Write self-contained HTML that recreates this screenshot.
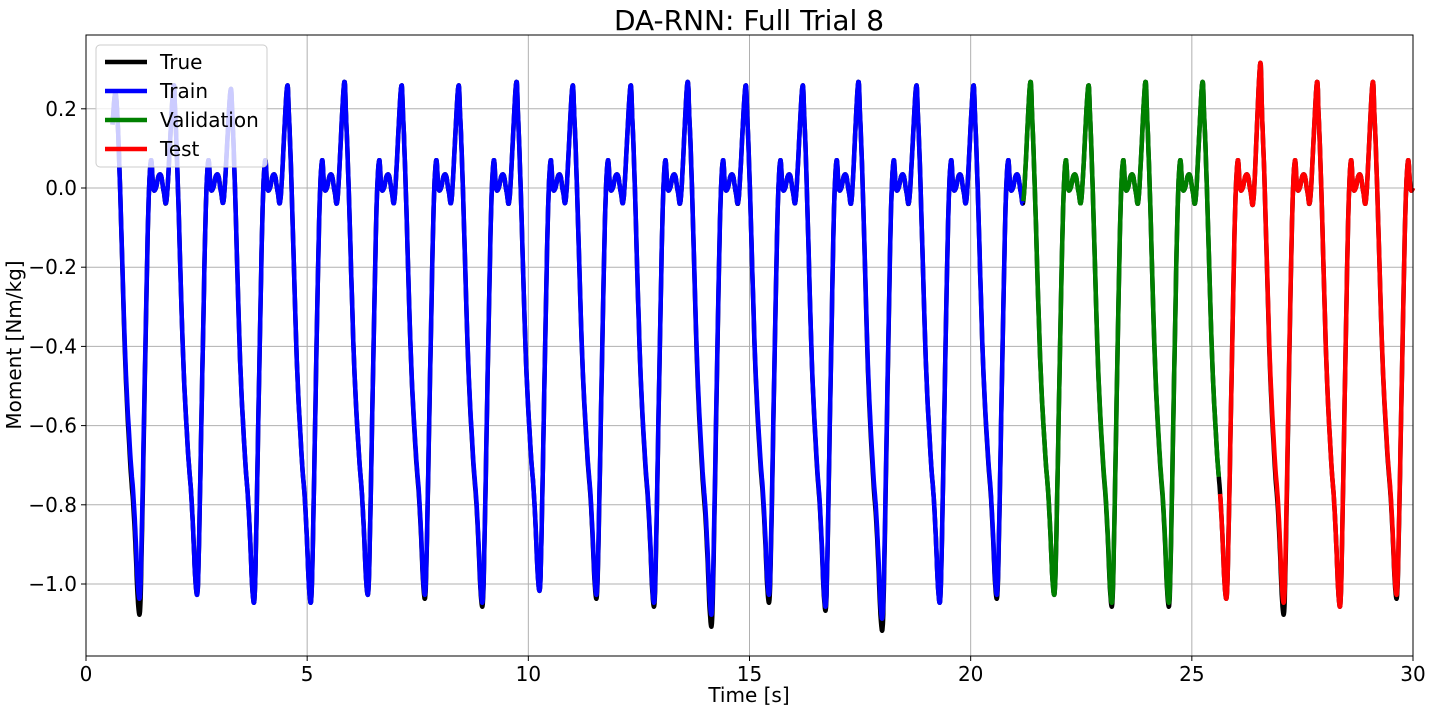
<!DOCTYPE html>
<html><head><meta charset="utf-8"><style>
body{margin:0;background:#fff;}
svg{display:block;font-family:"DejaVu Sans","Liberation Sans",sans-serif;}
</style></head><body>
<svg id="chart" width="1432" height="712">
<text x="749" y="30" font-size="28" text-anchor="middle">DA-RNN: Full Trial 8</text>
<g id="grid"></g>
<g id="series"></g>
<rect x="86" y="35" width="1327" height="621" fill="none" stroke="#000" stroke-width="1"/>
<g id="axes"></g>
<text x="749" y="702" font-size="20" text-anchor="middle">Time [s]</text>
<text transform="translate(21,345) rotate(-90)" font-size="20" text-anchor="middle">Moment [Nm/kg]</text>
<g>
<rect x="96" y="45" width="171" height="122" rx="4" fill="#fff" fill-opacity="0.8" stroke="#ccc"/>
<line x1="105" y1="62" x2="147" y2="62" stroke="#000" stroke-width="4.5"/>
<text x="160" y="69" font-size="20">True</text>
<line x1="105" y1="91" x2="147" y2="91" stroke="#0000ff" stroke-width="4.5"/>
<text x="160" y="98" font-size="20">Train</text>
<line x1="105" y1="120" x2="147" y2="120" stroke="#008000" stroke-width="4.5"/>
<text x="160" y="127" font-size="20">Validation</text>
<line x1="105" y1="149" x2="147" y2="149" stroke="#ff0000" stroke-width="4.5"/>
<text x="160" y="156" font-size="20">Test</text>
</g>
</svg>
<script>
const xTicks=[0,5,10,15,20,25,30];
const yTicks=[0.2,0.0,-0.2,-0.4,-0.6,-0.8,-1.0];
const peakTimes=[0.66,1.97,3.26,4.54,5.83,7.12,8.41,9.72,10.99,12.30,13.59,14.90,16.19,17.45,18.76,20.05,21.34,22.65,23.94,25.23,26.54,27.82,29.08];
const truePeaks=[0.24,0.25,0.24,0.25,0.26,0.25,0.25,0.26,0.25,0.25,0.26,0.25,0.25,0.26,0.25,0.25,0.26,0.25,0.26,0.26,0.31,0.26,0.26];
const trueMins=[-1.07,-1.02,-1.04,-1.04,-1.02,-1.03,-1.05,-1.01,-1.03,-1.05,-1.10,-1.04,-1.06,-1.11,-1.04,-1.03,-1.02,-1.05,-1.05,-1.03,-1.07,-1.05,-1.03];
const predPeaks=[0.24,0.25,0.24,0.25,0.26,0.25,0.25,0.26,0.25,0.25,0.26,0.25,0.25,0.26,0.25,0.25,0.26,0.25,0.26,0.26,0.31,0.26,0.26];
const predMins=[-1.03,-1.02,-1.04,-1.04,-1.02,-1.02,-1.04,-1.01,-1.02,-1.04,-1.07,-1.02,-1.05,-1.08,-1.04,-1.02,-1.02,-1.04,-1.04,-1.03,-1.04,-1.05,-1.02];
const shapePhase=[0,0.05,0.11,0.23,0.34,0.41,0.46,0.51,0.56,0.60,0.68,0.75,0.81,0.86,0.92,0.98,1.04,1.10,1.17,1.23];
const shapeValue=[1,0.18,0.0,-0.42,-0.65,-0.75,-0.85,-0.97,-1,-0.85,-0.4,-0.05,0.07,0.0,0.0,0.03,0.03,-0.01,-0.02,0.06];
const startTime=0.6, trainEnd=21.18, valEnd=25.64, endTime=30;

const X=t=>86+t*1327/30, Y=v=>188-v*396;
const NS='http://www.w3.org/2000/svg';
const grid=document.getElementById('grid'), axes=document.getElementById('axes'), ser=document.getElementById('series');
function mk(tag,attrs,parent){const e=document.createElementNS(NS,tag);for(const k in attrs)e.setAttribute(k,attrs[k]);parent.appendChild(e);return e;}
xTicks.forEach(t=>{
  const g=mk('line',{x1:X(t),x2:X(t),y1:35,y2:656,stroke:'#b0b0b0','stroke-width':1},grid);
  
  
  const tk=mk('line',{x1:X(t),x2:X(t),y1:656,y2:661,stroke:'#000'},axes);
  
  
  const l=mk('text',{x:X(t),y:681,'font-size':20,'text-anchor':'middle'},axes);
  l.textContent=String(t);
  
  
});
yTicks.forEach(v=>{
  const g=mk('line',{x1:86,x2:1413,y1:Y(v),y2:Y(v),stroke:'#b0b0b0','stroke-width':1},grid);
  
  
  const tk=mk('line',{x1:81,x2:86,y1:Y(v),y2:Y(v),stroke:'#000'},axes);
  
  
  const l=mk('text',{x:77,y:Y(v)+7,'font-size':20,'text-anchor':'end'},axes);
  l.textContent=(v<0?'\u2212':'')+Math.abs(v).toFixed(1);
  
  
});
function keypoints(peaks,mins){
  const pts=[];
  peakTimes.forEach((p,i)=>{
    const T=(i<peakTimes.length-1)?(peakTimes[i+1]-p):1.31;
    const sc=T/1.31;
    for(let j=0;j<shapePhase.length-1;j++){
      let v=shapeValue[j];
      if(j===0)v=peaks[i];else if(v<0)v=v*(-mins[i]);
      pts.push([p+shapePhase[j]*sc,v]);
    }
  });
  pts.unshift([peakTimes[0]-0.06,0.16]);
  return pts;
}
function dense(pts){
  const out=[];
  for(let i=0;i<pts.length-1;i++){
    const p0=pts[Math.max(0,i-1)],p1=pts[i],p2=pts[i+1],p3=pts[Math.min(pts.length-1,i+2)];
    for(let s=0;s<8;s++){const u=s/8,u2=u*u,u3=u2*u;
      const f=(a,b,c,d)=>0.5*(2*b+(-a+c)*u+(2*a-5*b+4*c-d)*u2+(-a+3*b-3*c+d)*u3);
      out.push([f(p0[0],p1[0],p2[0],p3[0]),f(p0[1],p1[1],p2[1],p3[1])]);}
  }
  out.push(pts[pts.length-1]);
  return out.filter(p=>p[0]>=startTime&&p[0]<=endTime);
}
function path(d,t0,t1,color,name){
  const s=d.filter(p=>p[0]>=t0&&p[0]<=t1);
  const e=mk('path',{d:'M'+s.map(p=>X(p[0]).toFixed(1)+','+Y(p[1]).toFixed(1)).join('L'),fill:'none',stroke:color,'stroke-width':4.5,'stroke-linejoin':'round','stroke-linecap':'butt'},ser);
  
  
}
const trueD=dense(keypoints(truePeaks,trueMins));
const predD=dense(keypoints(predPeaks,predMins));
path(trueD,startTime,endTime,'#000','true-line');
path(predD,startTime,trainEnd,'#0000ff','train-line');
path(predD,trainEnd,valEnd-0.03,'#008000','validation-line');
path(predD,valEnd,endTime,'#ff0000','test-line');
</script>
</body></html>
